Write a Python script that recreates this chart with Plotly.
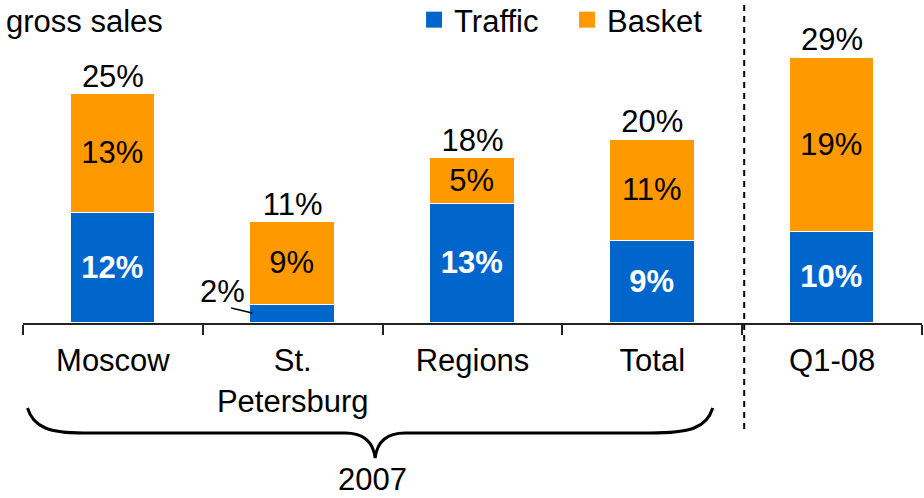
import plotly.graph_objects as go

categories = ["Moscow", "St.<br>Petersburg", "Regions", "Total", "Q1-08"]
traffic = [12, 2, 13, 9, 10]
basket = [13, 9, 5, 11, 19]
totals = [25, 11, 18, 20, 29]

BLUE = "#0066CC"
ORANGE = "#FF9900"
FONT = "Liberation Sans, Arial, sans-serif"
FS = 31

xs = list(range(len(categories)))
W, H = 924, 498
L, R, T, B = 22.5, 1.5, 3, 175
PW = W - L - R
PH = H - T - B


def px(x):
    return (x - L) / PW


def py(y):
    return (H - B - y) / PH


traffic_text = ["<b>%d%%</b>" % v if v >= 5 else "" for v in traffic]
basket_text = ["%d%%" % v for v in basket]

fig = go.Figure()
fig.add_trace(go.Bar(x=xs, y=traffic, marker=dict(color=BLUE, line=dict(color="white", width=1.5)),
                     width=0.47, text=traffic_text, textposition="inside", insidetextanchor="middle",
                     textangle=0, constraintext="none",
                     textfont=dict(color="white", size=FS, family=FONT), showlegend=False, hoverinfo="skip"))
fig.add_trace(go.Bar(x=xs, y=basket, marker=dict(color=ORANGE, line=dict(color="white", width=1.5)),
                     width=0.47, text=basket_text, textposition="inside", insidetextanchor="middle",
                     textangle=0, constraintext="none",
                     textfont=dict(color="black", size=FS, family=FONT), showlegend=False, hoverinfo="skip"))
fig.add_trace(go.Scatter(x=xs, y=totals, mode="text", text=["%d%%" % v for v in totals],
                         textposition="top center", textfont=dict(color="black", size=FS, family=FONT),
                         showlegend=False, cliponaxis=False, hoverinfo="skip"))
# legend entries
fig.add_trace(go.Scatter(x=[None], y=[None], mode="markers", name="Traffic",
                         marker=dict(symbol="square", size=16, color=BLUE)))
fig.add_trace(go.Scatter(x=[None], y=[None], mode="markers", name="Basket",
                         marker=dict(symbol="square", size=16, color=ORANGE)))

# small-value label with leader line
fig.add_annotation(x=0.608, y=3.4, text="%d%%" % traffic[1], showarrow=False,
                   font=dict(size=FS, family=FONT, color="black"))
fig.add_shape(type="line", x0=0.658, y0=1.64, x1=0.775, y1=1.09, line=dict(color="black", width=1.5))

# separator dashed line
fig.add_shape(type="line", xref="paper", yref="paper", x0=px(744.5), x1=px(744.5), y0=py(5), y1=py(430),
              line=dict(color="black", width=2, dash="6px,5px"))

# brace
P = lambda x, y: "%.4f,%.4f" % (px(x), py(y))
path = ("M " + P(27, 408) + " C " + P(33, 428) + " " + P(50, 433) + " " + P(83, 433) +
        " L " + P(345, 433) + " Q " + P(372, 433) + " " + P(375, 458) +
        " Q " + P(378, 433) + " " + P(405, 433) +
        " L " + P(650, 433) + " C " + P(690, 433) + " " + P(707, 428) + " " + P(713, 408))
fig.add_shape(type="path", xref="paper", yref="paper", path=path, line=dict(color="black", width=3))

fig.add_annotation(xref="paper", yref="paper", x=px(372), y=py(479), text="2007", showarrow=False,
                   font=dict(size=FS, family=FONT, color="black"), xanchor="center", yanchor="middle")
fig.add_annotation(xref="paper", yref="paper", x=px(3), y=py(21), text="gross sales", showarrow=False,
                   font=dict(size=FS, family=FONT, color="black"), xanchor="left", yanchor="middle")

fig.update_layout(
    width=W, height=H, barmode="stack", bargap=0,
    margin=dict(l=L, r=R, t=T, b=B, pad=0, autoexpand=False),
    paper_bgcolor="white", plot_bgcolor="white",
    font=dict(family=FONT, size=FS, color="black"),
    legend=dict(orientation="h", x=px(414), y=py(-7), xanchor="left", yanchor="top", traceorder="normal",
                font=dict(size=FS, family=FONT, color="black"), bgcolor="rgba(0,0,0,0)",
                entrywidth=108, itemclick=False),
    xaxis=dict(range=[-0.5, 4.5], tickvals=xs, ticktext=categories, ticks="", showgrid=False,
               showline=True, linecolor="#222222", linewidth=2, zeroline=False, automargin=False,
               tickfont=dict(size=FS, family=FONT, color="black"), ticklabelstandoff=9,
               minor=dict(tickvals=[-0.5, 0.5, 1.5, 2.5, 3.5, 4.5], ticks="outside", ticklen=10,
                          tickcolor="#222222", tickwidth=2, showgrid=False)),
    yaxis=dict(range=[0, 35], visible=False, showgrid=False, zeroline=False, automargin=False),
)

fig.write_html("out.html", config={"displayModeBar": False},
               post_script="document.body.style.margin='0';document.body.style.overflow='hidden';")
